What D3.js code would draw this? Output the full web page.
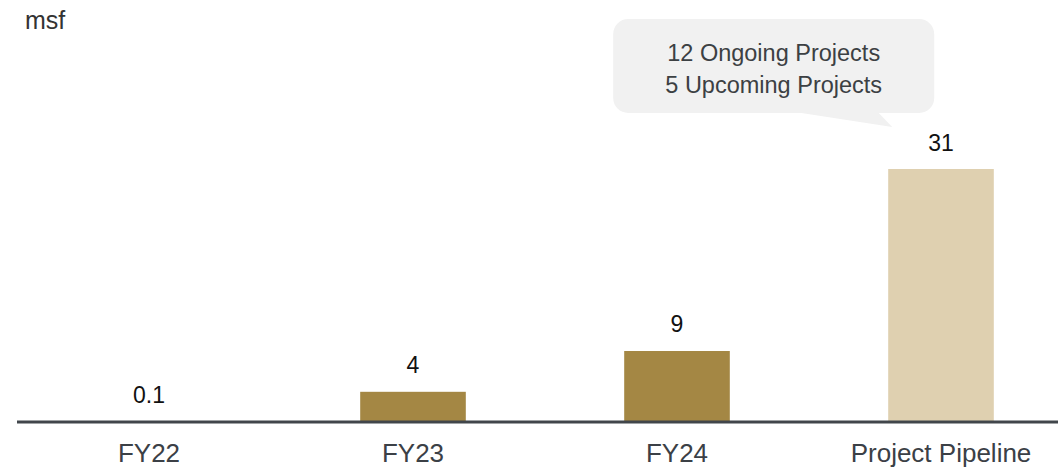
<!DOCTYPE html>
<html>
<head>
<meta charset="utf-8">
<script src="https://cdn.jsdelivr.net/npm/d3@7"></script>
<style>
  html, body { margin: 0; padding: 0; background: #fff; }
  svg { display: block; font-family: "Liberation Sans", Arial, sans-serif; }
</style>
</head>
<body>
<div id="chart"></div>
<script>
// data
const categories = ['FY22', 'FY23', 'FY24', 'Project Pipeline'];
const values = [0.1, 3.7, 8.7, 31];
const valueLabels = ['0.1', '4', '9', '31'];
const barColors = ['#a48744', '#a48744', '#a48744', '#dfd0b0'];
const unitLabel = 'msf';
const calloutLines = ['12 Ongoing Projects', '5 Upcoming Projects'];

const width = 1058;
const height = 471;
const baseY = 422;

const svg = d3.select('#chart')
    .append('svg')
    .attr('width', width)
    .attr('height', height);

// scales
const xScale = d3.scaleBand()
    .domain(categories)
    .range([17, 1073])
    .paddingInner(0.6)
    .paddingOuter(0.3);
const yScale = d3.scaleLinear()
    .domain([0, 31])
    .range([baseY, 169]);

// bars
svg.append('g')
    .selectAll('rect')
    .data(categories)
    .join('rect')
    .attr('x', (d) => xScale(d))
    .attr('width', xScale.bandwidth())
    .attr('y', (d, i) => yScale(values[i]))
    .attr('height', (d, i) => baseY - yScale(values[i]))
    .attr('fill', (d, i) => barColors[i]);

// value labels
svg.append('g')
    .selectAll('text')
    .data(categories)
    .join('text')
    .attr('x', (d) => xScale(d) + xScale.bandwidth() / 2)
    .attr('y', (d, i) => yScale(values[i]) - 18.5)
    .attr('text-anchor', 'middle')
    .attr('font-size', 23)
    .attr('fill', '#111')
    .text((d, i) => valueLabels[i]);

// x axis
const xAxis = d3.axisBottom(xScale).tickSize(0).tickPadding(22);
const axisG = svg.append('g')
    .attr('transform', `translate(0, ${baseY})`)
    .call(xAxis);
axisG.select('.domain')
    .attr('d', `M17,0H${width}`)
    .attr('stroke', '#41464b')
    .attr('stroke-width', 3);
axisG.selectAll('.tick text')
    .attr('font-size', 26)
    .attr('font-family', '"Liberation Sans", Arial, sans-serif')
    .attr('fill', '#3b4046')
    .attr('dy', '0.71em');

// unit label
svg.append('text')
    .attr('x', 25)
    .attr('y', 29)
    .attr('font-size', 25)
    .attr('fill', '#333')
    .text(unitLabel);

// callout bubble over the pipeline bar
const pipeX = xScale(categories[3]);
const boxX = pipeX - 275;
const boxY = 19;
const boxW = 321;
const boxH = 94;
const bubble = svg.append('g');
bubble.append('rect')
    .attr('x', boxX)
    .attr('y', boxY)
    .attr('width', boxW)
    .attr('height', boxH)
    .attr('rx', 15)
    .attr('fill', '#f1f1f1');
bubble.append('path')
    .attr('d', `M${pipeX - 90},${boxY + boxH - 0.5}L${pipeX + 4},${boxY + boxH + 14}L${pipeX - 10},${boxY + boxH - 0.5}Z`)
    .attr('fill', '#f1f1f1');
bubble.selectAll('text')
    .data(calloutLines)
    .join('text')
    .attr('x', boxX + boxW / 2)
    .attr('y', (d, i) => 61 + i * 32)
    .attr('text-anchor', 'middle')
    .attr('font-size', 23.5)
    .attr('fill', '#3c4043')
    .text((d) => d);
</script>
</body>
</html>
